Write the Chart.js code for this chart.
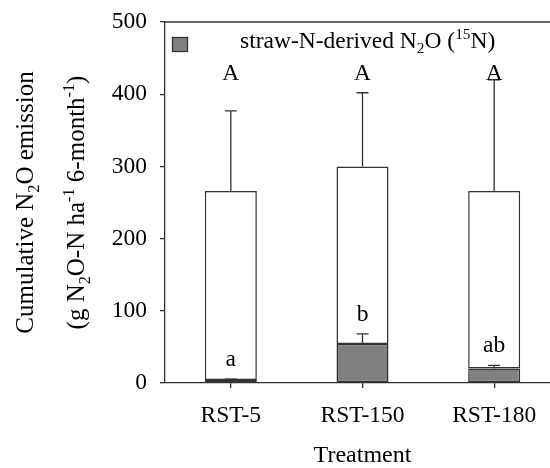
<!DOCTYPE html>
<html>
<head>
<meta charset="utf-8">
<script src="https://cdn.jsdelivr.net/npm/chart.js@4"></script>
<style>
  html, body { margin: 0; padding: 0; background: #fff; overflow: hidden; }
  #wrap { width: 560px; height: 468px; }
</style>
</head>
<body>
<div id="wrap"><canvas id="chart" width="560" height="468"></canvas></div>
<script>
const categories = ['RST-5', 'RST-150', 'RST-180'];
const totalN2O = [266, 300, 266];
const totalSE = [111, 102, 154];
const strawN2O = [4, 54, 20];
const strawSE = [1.5, 14, 4.5];
const totalLetters = ['A', 'A', 'A'];
const strawLetters = ['a', 'b', 'ab'];
const yTicks = [0, 100, 200, 300, 400, 500];

const SERIF = '"Liberation Serif", "Times New Roman", serif';
const INK = '#333333';

// white part = total minus straw-derived part (stacked on top)
const restN2O = totalN2O.map((v, i) => v - strawN2O[i]);

// draw text with sub/superscript pieces: [[text, ''|'sub'|'sup'], ...]
function richWidth(ctx, parts, size) {
    let w = 0;
    parts.forEach(p => {
        const s = p[1] ? size * 0.65 : size;
        ctx.font = s + 'px ' + SERIF;
        w += ctx.measureText(p[0]).width;
    });
    return w;
}
function drawRich(ctx, parts, x, y, size, align) {
    let cx = align === 'center' ? x - richWidth(ctx, parts, size) / 2 : x;
    ctx.textAlign = 'left';
    ctx.textBaseline = 'alphabetic';
    parts.forEach(p => {
        const s = p[1] ? size * 0.65 : size;
        let dy = 0;
        if (p[1] === 'sub') dy = size * 0.22;
        if (p[1] === 'sup') dy = -size * 0.4;
        ctx.font = s + 'px ' + SERIF;
        ctx.fillText(p[0], cx, y + dy);
        cx += ctx.measureText(p[0]).width;
    });
}

const extras = {
    id: 'extras',
    afterDatasetsDraw(chart) {
        const ctx = chart.ctx;
        const xs = chart.scales.x, ys = chart.scales.y;
        const area = chart.chartArea;
        ctx.save();
        ctx.strokeStyle = INK;
        ctx.lineWidth = 1.3;

        // top frame line
        ctx.beginPath();
        ctx.moveTo(area.left, area.top);
        ctx.lineTo(area.right, area.top);
        ctx.stroke();

        // error bars (upper whisker only)
        const whisker = (x, v, se) => {
            const y0 = ys.getPixelForValue(v), y1 = ys.getPixelForValue(v + se);
            ctx.beginPath();
            ctx.moveTo(x, y0); ctx.lineTo(x, y1);
            ctx.moveTo(x - 6, y1); ctx.lineTo(x + 6, y1);
            ctx.stroke();
        };
        ctx.fillStyle = '#000';
        categories.forEach((c, i) => {
            const x = xs.getPixelForValue(i);
            whisker(x, totalN2O[i], totalSE[i]);
            whisker(x, strawN2O[i], strawSE[i]);
            ctx.font = '23.5px ' + SERIF;
            ctx.textAlign = 'center';
            ctx.textBaseline = 'alphabetic';
            ctx.fillText(totalLetters[i], x, ys.getPixelForValue(420));
            ctx.fillText(strawLetters[i], x, ys.getPixelForValue(strawN2O[i] + strawSE[i]) - 13);
        });

        // legend
        ctx.fillStyle = '#808080';
        ctx.fillRect(172.5, 37.5, 15, 14);
        ctx.strokeRect(172.5, 37.5, 15, 14);
        ctx.fillStyle = '#000';
        drawRich(ctx, [['straw-N-derived N', ''], ['2', 'sub'], ['O (', ''], ['15', 'sup'], ['N)', '']], 240, 48, 23.5, 'left');

        // y axis title, two rotated lines
        const midY = (area.top + area.bottom) / 2;
        ctx.translate(33, midY);
        ctx.rotate(-Math.PI / 2);
        drawRich(ctx, [['Cumulative N', ''], ['2', 'sub'], ['O emission', '']], 0, 0, 25, 'center');
        ctx.translate(0, 51);
        drawRich(ctx, [['(g N', ''], ['2', 'sub'], ['O-N ha', ''], ['-1', 'sup'], [' 6-month', ''], ['-1', 'sup'], [')', '']], 0, 0, 25, 'center');
        ctx.restore();
    }
};

new Chart(document.getElementById('chart'), {
    type: 'bar',
    data: {
        labels: categories,
        datasets: [{
            label: 'straw-N-derived N2O (15N)',
            data: strawN2O,
            backgroundColor: '#808080',
            borderColor: INK,
            borderWidth: 1.5,
            borderSkipped: false
        }, {
            label: 'other',
            data: restN2O,
            backgroundColor: '#ffffff',
            borderColor: INK,
            borderWidth: 1.5,
            borderSkipped: false
        }]
    },
    options: {
        responsive: false,
        animation: false,
        devicePixelRatio: 1,
        layout: { padding: { top: 22, left: 0, right: 0, bottom: 0 } },
        plugins: { legend: { display: false }, tooltip: { enabled: false } },
        datasets: { bar: { barPercentage: 0.395, categoryPercentage: 1 } },
        scales: {
            x: {
                stacked: true,
                afterFit(s) { s.height = 85; s.paddingLeft = 0; s.paddingRight = 0; },
                grid: { offset: false, drawOnChartArea: false, drawTicks: true, tickLength: 5, color: INK, lineWidth: 1.3 },
                border: { display: true, color: INK, width: 1.3 },
                ticks: { color: '#000', padding: 14, font: { family: SERIF, size: 23.5 } },
                title: { display: true, text: 'Treatment', color: '#000', padding: { top: 0, bottom: 0 }, font: { family: SERIF, size: 24, lineHeight: 1 } }
            },
            y: {
                stacked: true,
                min: 0,
                max: 500,
                afterFit(s) { s.width = 165; s.paddingTop = 0; s.paddingBottom = 0; },
                afterBuildTicks(s) { s.ticks = yTicks.map(v => ({ value: v })); },
                grid: { drawOnChartArea: false, drawTicks: true, tickLength: 5, color: INK, lineWidth: 1.3 },
                border: { display: true, color: INK, width: 1.3 },
                ticks: { color: '#000', padding: 13, font: { family: SERIF, size: 23.5 } }
            }
        }
    },
    plugins: [extras]
});
</script>
</body>
</html>
